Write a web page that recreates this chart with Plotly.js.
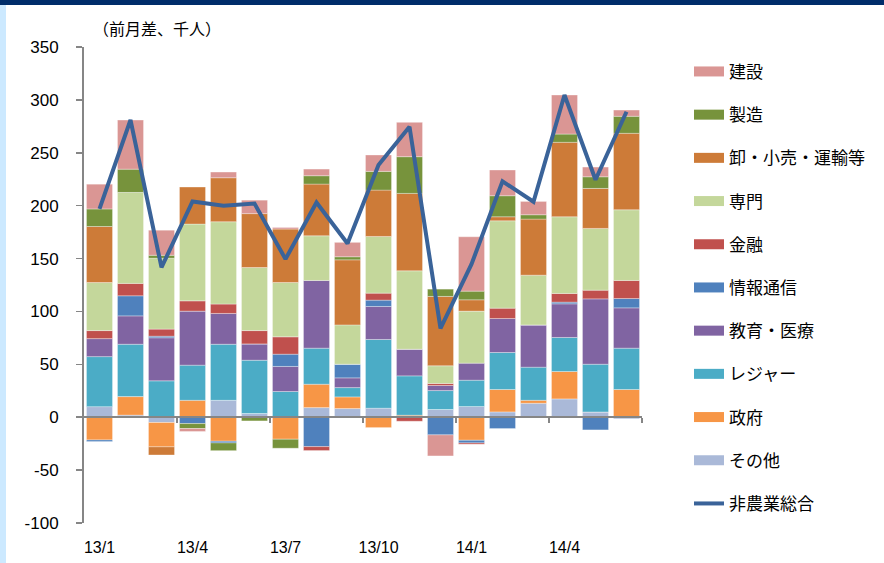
<!DOCTYPE html>
<html>
<head>
<meta charset="utf-8">
<script src="https://cdn.plot.ly/plotly-3.0.1.min.js"></script>
<style>
  html, body { margin: 0; padding: 0; background: #ffffff; }
  #chart { position: absolute; left: 0; top: 0; width: 884px; height: 563px; }
  #topbar { position: absolute; left: 0; top: 0; width: 884px; height: 5px; background: #002D6A; z-index: 5; }
  #leftbar { position: absolute; left: 0; top: 5px; width: 6px; height: 558px; background: #CCE9FF; z-index: 5; }
</style>
</head>
<body>
<div id="chart"></div>
<div id="topbar"></div>
<div id="leftbar"></div>
<script>
// Months (x categories) and tick labels
const months = ['13/1','13/2','13/3','13/4','13/5','13/6','13/7','13/8','13/9','13/10','13/11','13/12','14/1','14/2','14/3','14/4','14/5','14/6'];
const tickLabels = ['13/1','13/4','13/7','13/10','14/1','14/4'];
const yTickVals = [-100, -50, 0, 50, 100, 150, 200, 250, 300, 350];
const yTickText = ['-100', '-50', '0', '50', '100', '150', '200', '250', '300', '350'];

// Series values (前月差、千人)
const sonota   = [10, 2, -5, 0, 16, 3.5, 0, 9.1, 8.2, 8.5, 0, 7.3, 10.1, 5, 13.2, 17.3, 5, -1.5];          // その他
const seifu    = [-21.5, 17.5, -23, 16, -22.7, 0, -20.8, 22.1, 11, -9.8, 1.9, 0, -21.8, 21.2, 2.8, 25.9, 0, 26.2]; // 政府
const leisure  = [47.3, 49.5, 34.4, 33.2, 53, 50.4, 24.3, 34.1, 8.8, 65, 37.2, 17.9, 24.9, 35, 31.3, 32.2, 45.1, 39.1]; // レジャー
const kyoiku   = [17, 26.8, 40.7, 51.1, 29.1, 15.4, 23.7, 64, 9.2, 31.2, 25.2, 4.8, 16.1, 32.1, 40, 31.8, 61.8, 38.1]; // 教育・医療
const joho     = [-1.5, 19, 1.5, -6, -1.6, 0, 11.6, -27.8, 12.9, 6, 0, -16.7, -2.5, -10.7, 0, 1.6, -12, 8.8]; // 情報通信
const kinyu    = [7.6, 11.7, 6.7, 9.7, 8.9, 12.6, 16.4, -3.7, 0, 6.6, -3.8, 1.9, -1.2, 9.8, 0, 8.2, 8.2, 17.1]; // 金融
const senmon   = [45.4, 86, 67, 72.6, 77.8, 59.6, 51.4, 42.2, 37.2, 53.6, 74.1, 16.7, 49.2, 82.6, 47, 72.5, 58.4, 66.8]; // 専門
const oroshi   = [53, 0, -7.7, 35, 41.6, 51, 50.5, 48.9, 61.5, 43.8, 73.2, 65.6, 10.7, 3.8, 53, 70.4, 37.8, 72.3]; // 卸・小売・運輸等
const seizo    = [16.6, 22, 2.8, -4.7, -7.3, -3.5, -8.5, 7.9, 2.9, 17.7, 34.7, 6.9, 8.2, 19.9, 4.1, 7.8, 11, 16.1]; // 製造
const kensetsu = [23.4, 46.4, 23.7, -2.8, 5.4, 12.7, 1.5, 6.3, 13.6, 15.5, 32.5, -19.9, 51.4, 24.3, 12.6, 36.9, 9.2, 5.9]; // 建設
const total    = [197, 281, 141.6, 204, 200, 202, 149.5, 203, 164.3, 238.4, 274.6, 84, 144.7, 223, 203.7, 304.6, 224.5, 288.8]; // 非農業総合

const seriesNames = ['その他','政府','レジャー','教育・医療','情報通信','金融','専門','卸・小売・運輸等','製造','建設'];
const seriesData  = [sonota, seifu, leisure, kyoiku, joho, kinyu, senmon, oroshi, seizo, kensetsu];
const seriesColors = ['#AAB9D8','#F79646','#4BACC6','#8064A2','#4F81BD','#C0504D','#C4D79B','#CD7B38','#77933C','#DA9694'];
const lineName = '非農業総合';
const lineColor = '#3A6399';

const xIdx = months.map((m, i) => i);
const tickIdx = tickLabels.map(t => months.indexOf(t));
const boundaryIdx = [2.5, 5.5, 8.5, 11.5, 14.5, 17.5];

const traces = [];
seriesNames.forEach((name, k) => {
  traces.push({
    type: 'bar', name: name, x: xIdx, y: seriesData[k],
    marker: { color: seriesColors[k], line: { width: 0.6, color: 'rgba(255,255,255,0.55)' } },
    showlegend: false, hoverinfo: 'name+y'
  });
});
// legend entries (wide colour keys)
seriesNames.forEach((name, k) => {
  traces.push({
    type: 'scatter', mode: 'lines', name: name, x: [null], y: [null],
    line: { color: seriesColors[k], width: 11 },
    legendgroup: 'g' + k, legendrank: seriesNames.length - k, showlegend: true, hoverinfo: 'skip'
  });
});
traces.push({
  type: 'scatter', mode: 'lines', name: lineName, x: xIdx, y: total,
  xaxis: 'x2', yaxis: 'y',
  line: { color: lineColor, width: 4 },
  legendgroup: 'gline', legendrank: seriesNames.length + 1
});

const axisGrey = '#868686';
const layout = {
  width: 884, height: 563,
  margin: { l: 84, r: 242, t: 47, b: 40, autoexpand: false },
  paper_bgcolor: '#ffffff', plot_bgcolor: '#ffffff',
  barmode: 'relative', bargap: 0.16,
  font: { family: 'Liberation Sans, Arial, sans-serif', color: '#000000' },
  title: {
    text: '（前月差、千人）',
    font: { family: '"Noto Sans CJK JP", sans-serif', size: 16, color: '#000000' },
    xref: 'container', yref: 'container', x: 93 / 884, xanchor: 'left', y: 1 - 29 / 563, yanchor: 'middle'
  },
  xaxis: {
    range: [-0.5, 17.5], fixedrange: true,
    tickmode: 'array', tickvals: tickIdx, ticktext: tickLabels,
    ticks: '', showline: false, showgrid: false, zeroline: false,
    tickfont: { family: '"Liberation Sans Narrow", "Liberation Sans", sans-serif', size: 16, color: '#000000' },
    ticklabelstandoff: 13
  },
  xaxis2: {
    overlaying: 'x', anchor: 'free', position: 100 / 450, side: 'bottom',
    range: [-0.5, 17.5], fixedrange: true,
    tickmode: 'array', tickvals: boundaryIdx, showticklabels: false,
    ticks: 'outside', ticklen: 5, tickwidth: 1.5, tickcolor: axisGrey,
    showline: true, linecolor: axisGrey, linewidth: 2,
    showgrid: false, zeroline: false
  },
  yaxis: {
    range: [-100, 350], fixedrange: true,
    tickmode: 'array', tickvals: yTickVals, ticktext: yTickText,
    ticks: 'outside', ticklen: 6, tickwidth: 1.5, tickcolor: axisGrey,
    showline: true, linecolor: axisGrey, linewidth: 2,
    showgrid: false, zeroline: false,
    tickfont: { family: 'Liberation Sans, Arial, sans-serif', size: 17, color: '#000000' },
    ticklabelstandoff: 14
  },
  legend: {
    x: (689 - 84) / 558, xanchor: 'left', y: 0.9855, yanchor: 'top',
    traceorder: 'grouped', tracegroupgap: 18.1, itemwidth: 30,
    font: { family: '"Noto Sans CJK JP", sans-serif', size: 17, color: '#000000' },
    bgcolor: 'rgba(0,0,0,0)'
  },
  showlegend: true
};

Plotly.newPlot('chart', traces, layout, { staticPlot: true, displayModeBar: false });
</script>
</body>
</html>
